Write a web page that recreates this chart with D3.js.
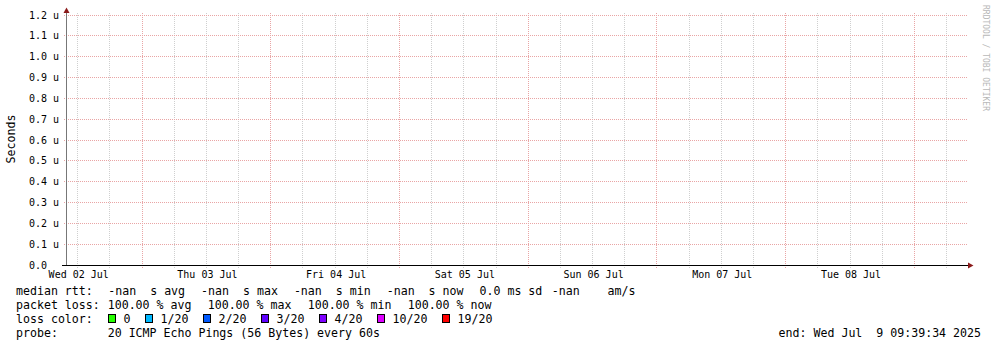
<!DOCTYPE html>
<html lang="en">
<head>
<meta charset="UTF-8">
<script src="https://cdn.jsdelivr.net/npm/d3@7"></script>
<title>smokeping</title>
<style>
  body { margin: 0; background: #fff; }
  text { font-family: "DejaVu Sans Mono", monospace; white-space: pre; }
</style>
</head>
<body>
<div id="chart"></div>
<script>
// data
var timeStart = new Date(Date.UTC(2025, 6, 2, 10, 0));
var timeEnd = new Date(Date.UTC(2025, 6, 9, 10, 0));
var yTicks = [0, 0.1e-6, 0.2e-6, 0.3e-6, 0.4e-6, 0.5e-6, 0.6e-6, 0.7e-6, 0.8e-6, 0.9e-6, 1.0e-6, 1.1e-6, 1.2e-6];
var medianRtt = []; // no samples in the window, every value is nan
var rttStatNames = ["avg", "max", "min", "now"];
var rttStatValues = ["-nan", "-nan", "-nan", "-nan"];
var rttSd = "0.0 ms";
var rttAms = "-nan";
var lossStatNames = ["avg", "max", "min", "now"];
var lossStatValues = ["100.00", "100.00", "100.00", "100.00"];
var lossLabels = ["0", "1/20", "2/20", "3/20", "4/20", "10/20", "19/20"];
var lossColors = ["#26ff00", "#00b8ff", "#0059ff", "#5e00ff", "#7e00ff", "#dd00ff", "#ff0000"];
var probeText = "20 ICMP Echo Pings (56 Bytes) every 60s";
var endText = "end: Wed Jul  9 09:39:34 2025";

var W = 997, H = 347;
var svg = d3.select("#chart").append("svg")
    .attr("width", W).attr("height", H);

svg.append("rect").attr("width", W).attr("height", H).attr("fill", "#fff");

var x = d3.scaleUtc().domain([timeStart, timeEnd]).range([67, 968]);
var y = d3.scaleLinear().domain([0, 1.2e-6]).range([265, 15]);
var px = v => Math.floor(v) + 0.5;

// grid
var minor = d3.utcHour.every(6).range(timeStart, timeEnd).filter(d => d.getUTCHours() != 0);
var major = d3.utcDay.range(timeStart, timeEnd);

var grid = svg.append("g");
grid.selectAll(".minor").data(minor).enter().append("line")
    .attr("x1", d => px(x(d))).attr("x2", d => px(x(d)))
    .attr("y1", 13).attr("y2", 268)
    .attr("stroke", "#cfcfcf").attr("stroke-dasharray", "1,1");
grid.selectAll(".hgrid").data(yTicks.slice(1)).enter().append("line")
    .attr("x1", 64).attr("x2", 968)
    .attr("y1", d => px(y(d))).attr("y2", d => px(y(d)))
    .attr("stroke", "#e9a5a5").attr("stroke-dasharray", "1,1");
grid.selectAll(".major").data(major).enter().append("line")
    .attr("x1", d => px(x(d))).attr("x2", d => px(x(d)))
    .attr("y1", 13).attr("y2", 268)
    .attr("stroke", "#e9a5a5").attr("stroke-dasharray", "1,1");

// median line (empty)
svg.append("path").datum(medianRtt)
    .attr("fill", "none").attr("stroke", "#26ff00")
    .attr("d", d3.line().x(d => x(d.t)).y(d => y(d.v)));

// axes
svg.append("line").attr("x1", 66.5).attr("x2", 66.5).attr("y1", 266).attr("y2", 11)
    .attr("stroke", "#777");
svg.append("line").attr("x1", 62).attr("x2", 969).attr("y1", 265.5).attr("y2", 265.5)
    .attr("stroke", "#000");
svg.append("path").attr("d", "M63.5,13 L66.5,7.5 L69.5,13 Z").attr("fill", "#8b1a1a");
svg.append("path").attr("d", "M968,262.5 L973.5,265.5 L968,268.5 Z").attr("fill", "#8b1a1a");

// y labels
svg.append("g").selectAll("text").data(yTicks).enter().append("text")
    .attr("x", 29).attr("y", d => y(d) + 3.5)
    .attr("font-size", "10px").attr("fill", "#000")
    .text(d => d == 0 ? "0.0" : d3.format(".1f")(d * 1e6) + " u");

// x labels at noon
var labelDays = d3.utcDay.range(d3.utcDay.floor(timeStart), timeEnd)
    .filter(d => d3.utcHour.offset(d, 12) < timeEnd);
svg.append("g").selectAll("text").data(labelDays).enter().append("text")
    .attr("x", d => x(d3.utcHour.offset(d, 12)) + 1).attr("y", 277.5)
    .attr("text-anchor", "middle").attr("font-size", "10px").attr("fill", "#000")
    .text(d => d3.utcFormat("%a %d %b")(d));

svg.append("text").attr("transform", "translate(15,139) rotate(-90)")
    .attr("text-anchor", "middle").attr("font-size", "11.6px").attr("fill", "#000")
    .text("Seconds");

svg.append("text").attr("transform", "translate(983,5) rotate(90)")
    .attr("font-size", "8px").attr("fill", "#b8b8b8")
    .text("RRDTOOL / TOBI OETIKER");

// legend
var leg = svg.append("g").attr("font-size", "11.6px").attr("fill", "#000");
var put = (t, xx, yy) => leg.append("text").attr("x", xx).attr("y", yy).text(t);

put("median rtt:", 16, 295);
rttStatNames.forEach((k, i) => put(rttStatValues[i] + "  s " + k, 108.3 + i * 92.8, 295));
put(rttSd + " sd", 479.5, 295);
put(rttAms + "    am/s", 551.7, 295);

put("packet loss:", 16, 309);
lossStatNames.forEach((k, i) => put(lossStatValues[i] + " % " + k, 107.7 + i * 100, 309));

put("loss color:", 16, 323);
var bx = 108.5;
lossLabels.forEach((l, i) => {
    leg.append("rect").attr("x", bx).attr("y", 314.5).attr("width", 7).attr("height", 8)
        .attr("fill", lossColors[i]).attr("stroke", "#000");
    put(l, bx + 15, 323);
    bx = bx + 15 + l.length * 7 + 15;
});

put("probe:", 16, 337);
put(probeText, 107.7, 337);
put(endText, 981, 337).attr("text-anchor", "end");
</script>
</body>
</html>
